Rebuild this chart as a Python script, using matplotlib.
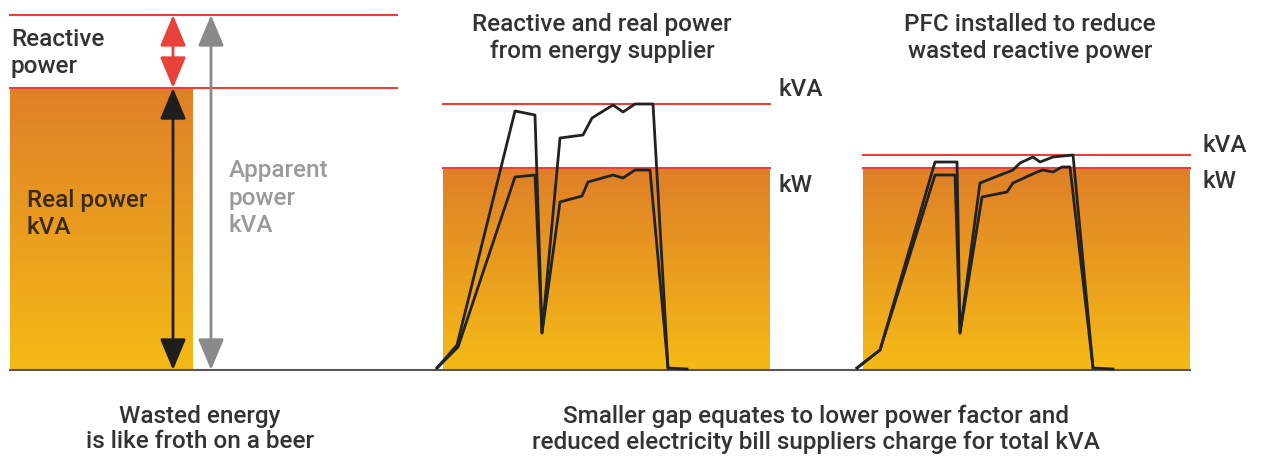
import numpy as np
import matplotlib
matplotlib.use("Agg")
import matplotlib.pyplot as plt
from matplotlib.colors import LinearSegmentedColormap
from matplotlib.patches import FancyArrowPatch

plt.rcParams['font.family'] = ['Roboto', 'DejaVu Sans']
plt.rcParams['font.weight'] = 'medium'

# layout in pixels (y measured downward from top)
BASE = 370

# panel 2: demand before PFC (time from panel start, power above baseline)
p2_x0 = 437
p2_kva_level = 266
p2_kw_level = 202
p2_t_kva = [0, 20, 78, 98, 105, 123, 146, 155, 176, 186, 198, 216, 231, 250]
p2_kva = [2, 25, 259, 255, 37, 232, 235, 252, 265, 258, 266, 266, 2, 1]
p2_t_kw = [0, 21, 78, 98, 105, 123, 145, 151, 176, 186, 198, 213, 231]
p2_kw = [2, 23, 193, 195, 37, 168, 174, 188, 195, 192, 200, 200, 2]

# panel 3: demand after PFC
p3_x0 = 857
p3_kva_level = 215
p3_kw_level = 202
p3_t_kva = [0, 23, 78, 100, 103, 123, 156, 163, 176, 183, 196, 216, 236, 256]
p3_kva = [2, 20, 208, 208, 37, 187, 200, 207, 213, 208, 213, 215, 2, 1]
p3_t_kw = [0, 23, 78, 98, 103, 125, 150, 156, 180, 186, 196, 205, 213, 236]
p3_kw = [2, 20, 195, 195, 37, 173, 178, 187, 198, 200, 198, 203, 203, 2]

RED = '#e8413a'
TXT = '#333333'
FS = 17.5
LS = 1.25
grad = LinearSegmentedColormap.from_list('beer', ['#df7f28', '#f4bb16'])

fig = plt.figure(figsize=(12.61, 4.59), dpi=100)
ax = fig.add_axes([0, 0, 1, 1])
ax.set_xlim(0, 1261)
ax.set_ylim(459, 0)
ax.axis('off')

g = np.linspace(0, 1, 256).reshape(-1, 1)


def fill(x0, x1, top):
    ax.imshow(g, cmap=grad, aspect='auto', extent=(x0, x1, BASE, top), zorder=1)


# baseline
ax.plot([10, 1190], [BASE, BASE], color='#555555', lw=1.5, zorder=3)

# panel 1
fill(10, 193, 88)
ax.plot([10, 397], [15, 15], color=RED, lw=1.5, zorder=3)
ax.plot([10, 397], [88, 88], color=RED, lw=1.5, zorder=3)


def arrow(x, y0, y1, c):
    a = FancyArrowPatch((x, y0), (x, y1), arrowstyle='<|-|>,head_length=1.2,head_width=0.5',
                        mutation_scale=16, color=c, lw=2, shrinkA=0, shrinkB=0, zorder=4)
    ax.add_patch(a)


arrow(173, 15, 88, RED)
arrow(173, 88, BASE, '#1e1e1e')
arrow(211, 15, BASE, '#8a8a8a')

ax.text(11, 53, 'Reactive\npower', fontsize=FS, color=TXT, va='center', ha='left', linespacing=LS)
ax.text(27, 214, 'Real power\nkVA', fontsize=FS, color='#3a2a12', va='center', ha='left', linespacing=LS)
ax.text(229, 198, 'Apparent\npower\nkVA', fontsize=FS, color='#9a9a9a', va='center', ha='left', linespacing=LS)

# panel 2
fill(443, 770, 168)
ax.plot([443, 770], [BASE - p2_kva_level] * 2, color=RED, lw=1.5, zorder=3)
ax.plot([443, 770], [BASE - p2_kw_level] * 2, color=RED, lw=1.5, zorder=3)
ax.plot(p2_x0 + np.array(p2_t_kva), BASE - np.array(p2_kva), color='#222222', lw=2, zorder=5)
ax.plot(p2_x0 + np.array(p2_t_kw), BASE - np.array(p2_kw), color='#222222', lw=2, zorder=5)
ax.text(778, 89, 'kVA', fontsize=FS, color=TXT, va='center')
ax.text(778, 186, 'kW', fontsize=FS, color=TXT, va='center')
ax.text(602, 38, 'Reactive and real power\nfrom energy supplier', fontsize=FS, color=TXT,
        ha='center', va='center', linespacing=LS)

# panel 3
fill(863, 1190, 168)
ax.plot([863, 1190], [BASE - p3_kva_level] * 2, color=RED, lw=1.5, zorder=3)
ax.plot([863, 1190], [BASE - p3_kw_level] * 2, color=RED, lw=1.5, zorder=3)
ax.plot(p3_x0 + np.array(p3_t_kva), BASE - np.array(p3_kva), color='#222222', lw=2, zorder=5)
ax.plot(p3_x0 + np.array(p3_t_kw), BASE - np.array(p3_kw), color='#222222', lw=2, zorder=5)
ax.text(1203, 146, 'kVA', fontsize=FS, color=TXT, va='center')
ax.text(1203, 181, 'kW', fontsize=FS, color=TXT, va='center')
ax.text(1030, 38, 'PFC installed to reduce\nwasted reactive power', fontsize=FS, color=TXT,
        ha='center', va='center', linespacing=LS)

# captions
ax.text(200, 429, 'Wasted energy\nis like froth on a beer', fontsize=FS, color=TXT,
        ha='center', va='center', linespacing=1.15)
ax.text(816, 429, 'Smaller gap equates to lower power factor and\nreduced electricity bill suppliers charge for total kVA',
        fontsize=FS, color=TXT, ha='center', va='center', linespacing=1.15)

fig.savefig('out.png', dpi=100)
